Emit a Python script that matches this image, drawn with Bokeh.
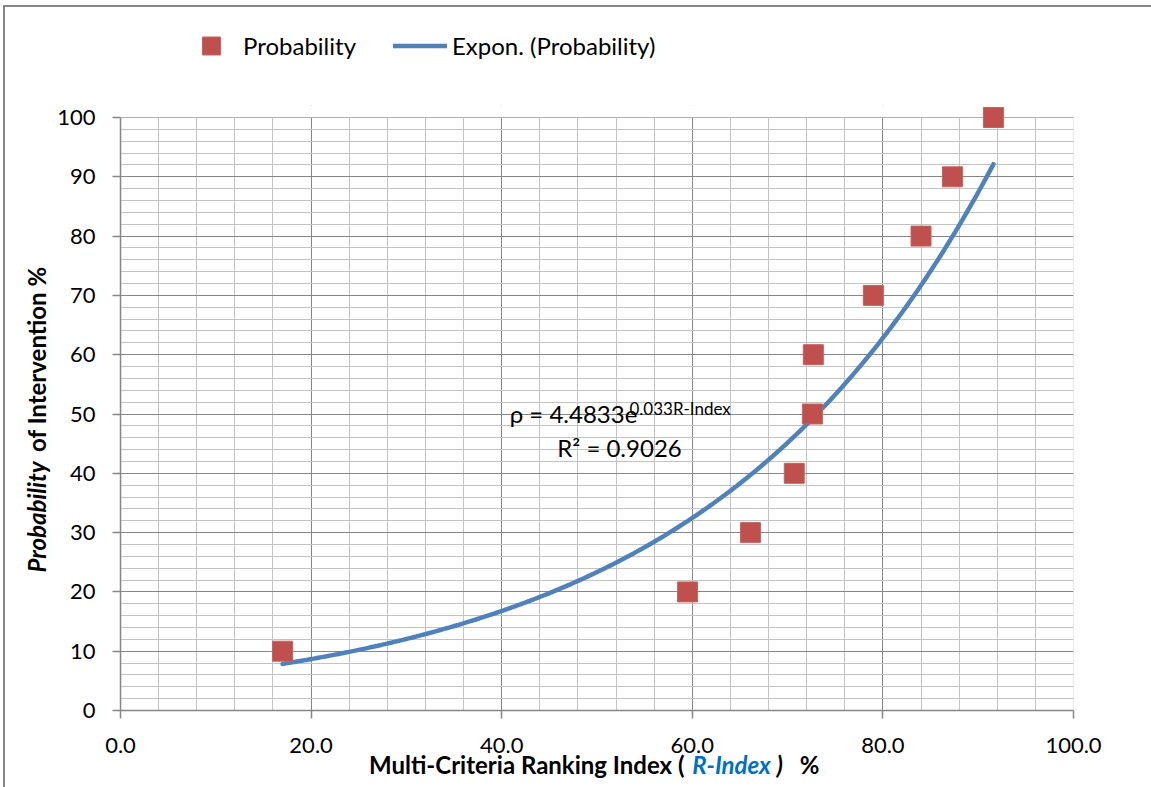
import numpy as np
from bokeh.plotting import figure
from bokeh.layouts import column, row
from bokeh.models import (Range1d, SingleIntervalTicker, Label, Legend, LegendItem,
                          NumeralTickFormatter, BoxAnnotation)
from bokeh.embed import file_html
from bokeh.resources import INLINE

# ---------------- data ----------------
r_index = [17.0, 59.5, 66.1, 70.7, 72.6, 72.7, 79.0, 84.0, 87.3, 91.6]
probability = [10, 20, 30, 40, 50, 60, 70, 80, 90, 100]
fit_a = 4.4833
fit_b = 0.033
r_squared = 0.9026
x_tick_step = 20
y_tick_step = 10
x_max = 100
y_max = 100

# ---------------- layout (image pixels) ----------------
IMG_W, IMG_H = 1151, 787
FL, FT, FR, FB = 118, 117, 1073, 710   # chart area (0..100) in image pixels
FRAME_TOP = 105                        # frame extends a little above 100 so the top marker is whole
LW = 54                                # left strip (y title)
TH = 90                                # top strip (legend)
PAD_T = FRAME_TOP - TH
PAD_B = 47
OVERLAP = 10                           # bottom strip slides up over the (transparent) plot border
PW = IMG_W - LW
PH = PAD_T + (FB - FRAME_TOP) + PAD_B
BH = IMG_H - TH - PH + OVERLAP

FONT = "Lato"
GRID_MAJOR = "#868686"
GRID_MINOR = "#c3c3c3"
RED = "#C0504D"
RED_EDGE = "#C9625F"
BLUE = "#4F81BD"
UP = 0.4   # label anchor correction (fraction of font size)


def dx(px):
    return (px - FL) / (FR - FL) * 100.0


def dy(py):
    return (FB - py) / (FB - FT) * 100.0


def strip(w, h, **borders):
    f = figure(width=w, height=h, title=None, output_backend="svg", toolbar_location=None,
               x_axis_type=None, y_axis_type=None,
               min_border_left=borders.get("left", 0), min_border_right=borders.get("right", 0),
               min_border_top=borders.get("top", 0), min_border_bottom=borders.get("bottom", 0))
    f.outline_line_color = None
    f.border_fill_color = None
    f.background_fill_color = None
    return f


# ---------------- main plot ----------------
p = figure(width=PW, height=PH, title=None, output_backend="svg", toolbar_location=None,
           x_range=Range1d(0, x_max), y_range=Range1d(0, dy(FRAME_TOP)),
           min_border_left=FL - LW, min_border_right=PW - (FR - LW),
           min_border_top=PAD_T, min_border_bottom=PAD_B)
p.background_fill_color = "white"
p.border_fill_color = None
p.outline_line_color = None

p.xaxis.ticker = SingleIntervalTicker(interval=x_tick_step, num_minor_ticks=5)
p.yaxis.ticker = SingleIntervalTicker(interval=y_tick_step, num_minor_ticks=5)
p.xaxis.formatter = NumeralTickFormatter(format="0.0")
p.yaxis.bounds = (0, y_max)

for ax in (p.xaxis, p.yaxis):
    ax.axis_line_color = GRID_MAJOR
    ax.axis_line_width = 1.5
    ax.major_tick_line_color = GRID_MAJOR
    ax.major_tick_line_width = 1.5
    ax.major_tick_out = 8
    ax.major_tick_in = 0
    ax.minor_tick_line_color = None
    ax.major_label_text_font = FONT
    ax.major_label_text_font_size = "22px"
    ax.major_label_text_color = "#000000"
p.xaxis.major_label_standoff = 19
p.yaxis.major_label_standoff = 17

for g in (p.xgrid, p.ygrid):
    g.grid_line_color = GRID_MAJOR
    g.grid_line_width = 1
    g.minor_grid_line_color = GRID_MINOR
    g.minor_grid_line_width = 1
p.ygrid.bounds = (0, y_max)

# hide grid above 100, then draw the chart-area border
p.add_layout(BoxAnnotation(bottom=y_max, fill_color="white", fill_alpha=1,
                           line_color=None, level="underlay"))
p.add_layout(BoxAnnotation(left=0, right=x_max, bottom=0, top=y_max, fill_alpha=0,
                           line_color=GRID_MAJOR, line_width=1.2, level="underlay"))

xs = np.linspace(min(r_index), max(r_index), 300)
ys = fit_a * np.exp(fit_b * xs)
p.line(xs, ys, line_color=BLUE, line_width=4.5, line_cap="round")
p.scatter(r_index, probability, marker="square", size=20,
          fill_color=RED, line_color=RED_EDGE, line_width=1)

# trendline equation
p.add_layout(Label(x=dx(508), y=dy(423 - UP * 24), text="ρ = 4.4833e", text_font=FONT,
                   text_font_size="24px", text_color="#000000",
                   text_align="left", text_baseline="alphabetic"))
p.add_layout(Label(x=dx(628), y=dy(415 - UP * 17), text="0.033R-Index", text_font=FONT,
                   text_font_size="17px", text_color="#000000",
                   text_align="left", text_baseline="alphabetic"))
p.add_layout(Label(x=dx(618), y=dy(457 - UP * 24), text="R² = %.4f" % r_squared, text_font=FONT,
                   text_font_size="24px", text_color="#000000",
                   text_align="center", text_baseline="alphabetic"))

# ---------------- top strip: legend ----------------
ts = strip(IMG_W, TH)
ts.x_range = Range1d(-IMG_W, 0)     # legend proxies sit outside the view
ts.y_range = Range1d(0, TH)
leg_sq = ts.scatter(r_index, probability, marker="square", size=20, fill_color=RED,
                    line_color=RED_EDGE, line_width=1)
leg_ln = ts.line(r_index, probability, line_color=BLUE, line_width=4.5, line_cap="round")
legend = Legend(items=[LegendItem(label="Probability", renderers=[leg_sq]),
                       LegendItem(label="Expon. (Probability)", renderers=[leg_ln])],
                orientation="horizontal", location=(184, TH - 67.5),
                glyph_width=54, glyph_height=45, label_standoff=5,
                label_width=145, spacing=5, padding=0, margin=0,
                border_line_color=None, background_fill_alpha=0,
                label_text_font=FONT, label_text_font_size="24px",
                label_text_color="#000000")
ts.add_layout(legend)

# ---------------- left strip: y title ----------------
TS = 24
ly = strip(LW, PH, top=PAD_T, bottom=PAD_B)
ly.x_range = Range1d(0, LW)
ly.y_range = Range1d(0, FB - FRAME_TOP)
yx = 46 - UP * TS
ly.add_layout(Label(x=yx, y=FB - 572, text="Probability", angle=np.pi / 2,
                    text_font=FONT, text_font_size="%dpx" % TS, text_font_style="bold italic",
                    text_align="left", text_baseline="alphabetic", text_color="#000000"))
ly.add_layout(Label(x=yx, y=FB - 266, text="of Intervention %", angle=np.pi / 2,
                    text_font=FONT, text_font_size="%dpx" % TS, text_font_style="bold",
                    text_align="right", text_baseline="alphabetic", text_color="#000000"))

# ---------------- bottom strip: x title ----------------
bx = strip(IMG_W, BH)
bx.x_range = Range1d(0, IMG_W)
bx.y_range = Range1d(0, BH)
bx.styles = {"margin-top": "-%dpx" % OVERLAP}
base = IMG_H - (774 - UP * TS)
XS = "%dpx" % TS
bx.add_layout(Label(x=684, y=base, text="Multi-Criteria Ranking Index (",
                    text_font=FONT, text_font_size=XS, text_font_style="bold",
                    text_align="right", text_baseline="alphabetic", text_color="#000000"))
bx.add_layout(Label(x=731, y=base, text="R-Index",
                    text_font=FONT, text_font_size=XS, text_font_style="bold italic",
                    text_align="center", text_baseline="alphabetic", text_color="#0070C0"))
bx.add_layout(Label(x=776, y=base, text=")",
                    text_font=FONT, text_font_size=XS, text_font_style="bold italic",
                    text_align="left", text_baseline="alphabetic", text_color="#000000"))
bx.add_layout(Label(x=819, y=base, text="%",
                    text_font=FONT, text_font_size=XS, text_font_style="bold",
                    text_align="right", text_baseline="alphabetic", text_color="#000000"))

root = column(ts, row(ly, p), bx, styles={
    "background-color": "white",
    "background-image": "linear-gradient(#868686, #868686), linear-gradient(#868686, #868686)",
    "background-size": "2px 100%, 100% 2px",
    "background-position": "3px 5px, 3px 5px",
    "background-repeat": "no-repeat",
})

open("out.html", "w").write(file_html(root, INLINE))
